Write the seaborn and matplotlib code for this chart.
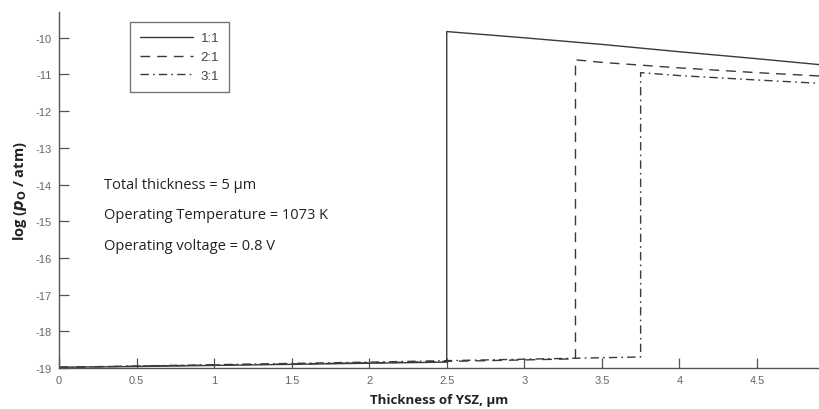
import matplotlib
matplotlib.use("Agg")
import matplotlib.pyplot as plt
import seaborn as sns
import pandas as pd

# ---- data ----
thick_11 = [0.0, 0.5, 1.0, 1.5, 2.0, 2.5, 2.5, 3.0, 3.5, 4.0, 4.5, 4.9]
logp_11 = [-18.98, -18.96, -18.93, -18.90, -18.87, -18.84, -9.83, -10.00, -10.18, -10.38, -10.57, -10.73]

thick_21 = [0.0, 1.0, 2.0, 3.0, 3.33, 3.33, 3.5, 4.0, 4.5, 4.9]
logp_21 = [-18.98, -18.92, -18.86, -18.78, -18.75, -10.60, -10.67, -10.82, -10.95, -11.04]

thick_31 = [0.0, 1.0, 2.0, 3.0, 3.75, 3.75, 4.0, 4.5, 4.9]
logp_31 = [-18.98, -18.91, -18.84, -18.76, -18.70, -10.95, -11.03, -11.15, -11.24]

series_labels = ["1:1", "2:1", "3:1"]
x_ticks = [0, 0.5, 1, 1.5, 2, 2.5, 3, 3.5, 4, 4.5]
x_tick_labels = ["0", "0.5", "1", "1.5", "2", "2.5", "3", "3.5", "4", "4.5"]
y_ticks = [-19, -18, -17, -16, -15, -14, -13, -12, -11, -10]
annotations = ["Total thickness = 5 µm",
               "Operating Temperature = 1073 K",
               "Operating voltage = 0.8 V"]

sns.set_style("white")
plt.rcParams["font.family"] = ["DejaVu Sans"]

fig = plt.figure(figsize=(8.19, 4.10), dpi=100)
ax = fig.add_axes([0.072, 0.100, 0.928, 0.868])

styles = [dict(linestyle="-"),
          dict(linestyle=(0, (7, 5))),
          dict(linestyle=(0, (6, 3, 1.2, 3)))]
data = [(thick_11, logp_11), (thick_21, logp_21), (thick_31, logp_31)]
for (xs, ys), lab, st in zip(data, series_labels, styles):
    df = pd.DataFrame({"x": xs, "y": ys})
    sns.lineplot(data=df, x="x", y="y", ax=ax, sort=False, estimator=None,
                 color="#3a3a3a", linewidth=1.0, label=lab, **st)

ax.set_xlim(0, 4.9)
ax.set_ylim(-19, -9.3)
ax.set_xticks(x_ticks)
ax.set_xticklabels(x_tick_labels)
ax.set_yticks(y_ticks)
ax.set_yticklabels([str(v) for v in y_ticks])

for s in ["top", "right"]:
    ax.spines[s].set_visible(False)
for s in ["left", "bottom"]:
    ax.spines[s].set_color("#555555")
    ax.spines[s].set_linewidth(1.0)

ax.tick_params(axis="both", which="major", bottom=True, left=True, top=False, right=False,
               direction="in", length=7, width=0.9, color="#555555",
               labelsize=8, labelcolor="#666666", pad=5)
for lbl in ax.get_xticklabels() + ax.get_yticklabels():
    lbl.set_family(["Liberation Sans Narrow", "Liberation Sans", "DejaVu Sans"])

ax.set_xlabel("Thickness of YSZ, µm", fontsize=9.5, fontweight="bold",
              family=["Open Sans", "DejaVu Sans"], color="#222222", labelpad=6)
ax.set_ylabel(r"log ($\mathbfit{p}_{\mathbf{O}}$ / atm)", fontsize=10.5, fontweight="bold",
              family=["Open Sans", "DejaVu Sans"], color="#222222", labelpad=5)

ann_y = [-14.0, -14.82, -15.66]
for t, yy in zip(annotations, ann_y):
    ax.text(0.29, yy, t, fontsize=10.5, color="#222222",
            family=["Open Sans", "DejaVu Sans"], va="center", ha="left")

leg = ax.legend(loc="upper left", bbox_to_anchor=(0.085, 0.99), frameon=True,
                fancybox=False, edgecolor="#555555", fontsize=9.5,
                handlelength=4.0, handletextpad=0.6, labelspacing=0.5,
                borderpad=0.75)
leg.get_frame().set_linewidth(1.0)
for txt in leg.get_texts():
    txt.set_color("#444444")
    txt.set_family(["Liberation Sans", "DejaVu Sans"])

fig.savefig("out.png", dpi=100, facecolor="white")
